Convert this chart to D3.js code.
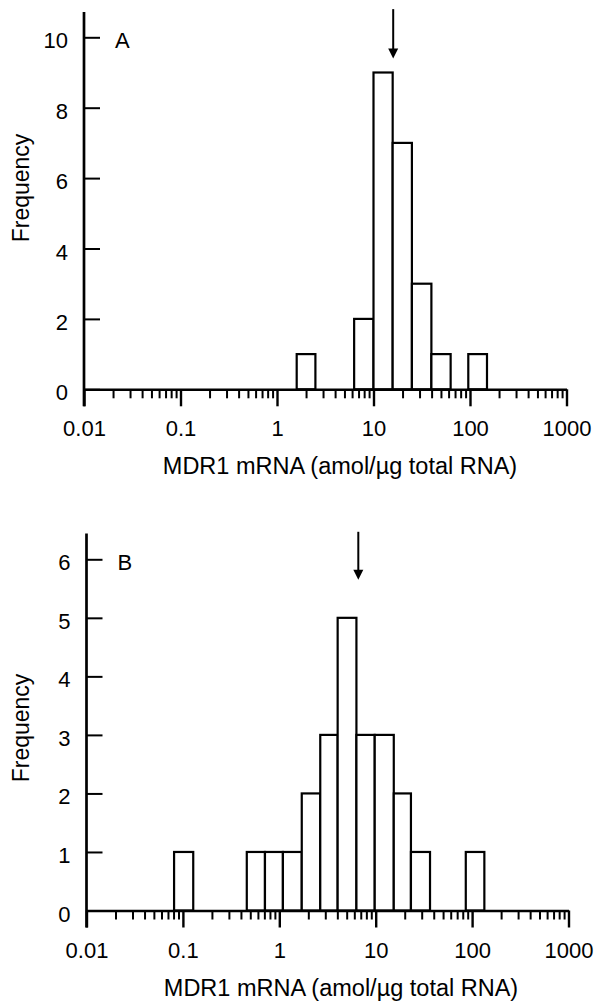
<!DOCTYPE html>
<html>
<meta charset="utf-8">
<style>
  body { margin: 0; background: #fff; }
  svg { display: block; }
  text { font-family: "Liberation Sans", Arial, Helvetica, sans-serif; fill: #000; }
</style>
<body>
<script src="https://d3js.org/d3.v7.min.js"></script>
<script>
// histogram bins (amol/ug total RNA)
var binLowA  = [1.6, 6.3, 10, 15.8, 25, 39.8, 96];
var binHighA = [2.5, 10, 15.8, 25, 39.8, 63, 150];
var countsA  = [1, 2, 9, 7, 3, 1, 1];
var medianA  = 16;

var binLowB  = [0.081, 0.46, 0.71, 1.09, 1.71, 2.66, 4.03, 6.31, 9.77, 15.4, 23.2, 86];
var binHighB = [0.128, 0.71, 1.09, 1.71, 2.66, 4.03, 6.31, 9.77, 15.4, 23.2, 36.6, 134];
var countsB  = [1, 1, 1, 1, 2, 3, 5, 3, 3, 2, 1, 1];
var medianB  = 6.6;

var xTicks = [0.01, 0.1, 1, 10, 100, 1000];
var xTickLabels = ["0.01", "0.1", "1", "10", "100", "1000"];
var yTicksA = [0, 2, 4, 6, 8, 10];
var yTicksB = [0, 1, 2, 3, 4, 5, 6];

var xTitle = "MDR1 mRNA (amol/\u00b5g total RNA)";

var svg = d3.select("body").append("svg")
    .attr("width", 598)
    .attr("height", 1002);

drawPanel({
  low: binLowA, high: binHighA, counts: countsA, median: medianA,
  yTicks: yTicksA, letter: "A",
  x0: 84, x1: 566.5, base: 389.3, top: 37.3, axisTop: 12,
  arrowFrom: 10.8, arrowTo: 9.4, freqY: 188, titleX: 340
});

drawPanel({
  low: binLowB, high: binHighB, counts: countsB, median: medianB,
  yTicks: yTicksB, letter: "B",
  x0: 86.5, x1: 568.5, base: 910.5, top: 559.3, axisTop: 533.5,
  arrowFrom: 6.47, arrowTo: 5.65, freqY: 728, titleX: 341
});

function drawPanel(p) {
  var yMax = d3.max(p.yTicks);
  var x = d3.scaleLog().domain([0.01, 1000]).range([p.x0, p.x1]);
  var y = d3.scaleLinear().domain([0, yMax]).range([p.base, p.top]);

  var g = svg.append("g");

  // bars
  g.append("g").selectAll("rect")
    .data(p.counts)
    .join("rect")
      .attr("x", (d, i) => x(p.low[i]))
      .attr("width", (d, i) => x(p.high[i]) - x(p.low[i]))
      .attr("y", d => y(d))
      .attr("height", d => y(0) - y(d))
      .attr("fill", "#fff")
      .attr("stroke", "#000")
      .attr("stroke-width", 2.2);

  // minor x ticks
  var minor = x.ticks().filter(v => xTicks.indexOf(v) < 0 && Math.abs(Math.log10(v) % 1) > 1e-6);
  g.append("g")
    .attr("transform", `translate(0,${p.base})`)
    .call(d3.axisBottom(x).tickValues(minor).tickSize(9).tickFormat(""))
    .call(a => a.select(".domain").remove())
    .call(a => a.selectAll("line").attr("stroke", "#000").attr("stroke-width", 2));

  // major x ticks + labels
  g.append("g")
    .attr("transform", `translate(0,${p.base})`)
    .call(d3.axisBottom(x).tickValues(xTicks).tickSize(17).tickSizeOuter(0)
      .tickFormat((d, i) => xTickLabels[i]))
    .call(a => a.select(".domain").attr("stroke", "#000").attr("stroke-width", 2.6))
    .call(a => a.selectAll("line").attr("stroke", "#000").attr("stroke-width", 2.4))
    .call(a => a.selectAll("text")
      .attr("y", 47).attr("dy", null)
      .style("font-size", "22px"));

  // y axis (ticks point inward, labels outside)
  g.append("g")
    .attr("transform", `translate(${p.x0},0)`)
    .call(d3.axisLeft(y).tickValues(p.yTicks).tickFormat(d3.format("d"))
      .tickSizeInner(-16).tickSizeOuter(0).tickPadding(16))
    .call(a => a.select(".domain").remove())
    .call(a => a.selectAll("line").attr("stroke", "#000").attr("stroke-width", 2))
    .call(a => a.selectAll("text")
      .attr("dy", null).attr("y", 10.5)
      .style("font-size", "22px"));

  g.append("line")
    .attr("x1", p.x0).attr("x2", p.x0)
    .attr("y1", p.axisTop).attr("y2", p.base + 17)
    .attr("stroke", "#000")
    .attr("stroke-width", 2.7);

  // panel letter
  g.append("text")
    .attr("x", p.x0 + 31)
    .attr("y", y(yMax) + 11)
    .style("font-size", "22px")
    .text(p.letter);

  // median arrow
  var ax = x(p.median), ya = y(p.arrowFrom), yb = y(p.arrowTo);
  g.append("line")
    .attr("x1", ax).attr("x2", ax)
    .attr("y1", ya).attr("y2", yb - 8)
    .attr("stroke", "#000")
    .attr("stroke-width", 2);
  g.append("path")
    .attr("d", `M${ax - 5},${yb - 10}L${ax + 5},${yb - 10}L${ax},${yb}Z`)
    .attr("fill", "#000");

  // axis titles
  g.append("text")
    .attr("transform", `translate(28.5,${p.freqY}) rotate(-90)`)
    .attr("text-anchor", "middle")
    .style("font-size", "23px")
    .text("Frequency");

  g.append("text")
    .attr("x", p.titleX)
    .attr("y", p.base + 85)
    .attr("text-anchor", "middle")
    .style("font-size", "23.5px")
    .text(xTitle);
}
</script>
</body>
</html>
